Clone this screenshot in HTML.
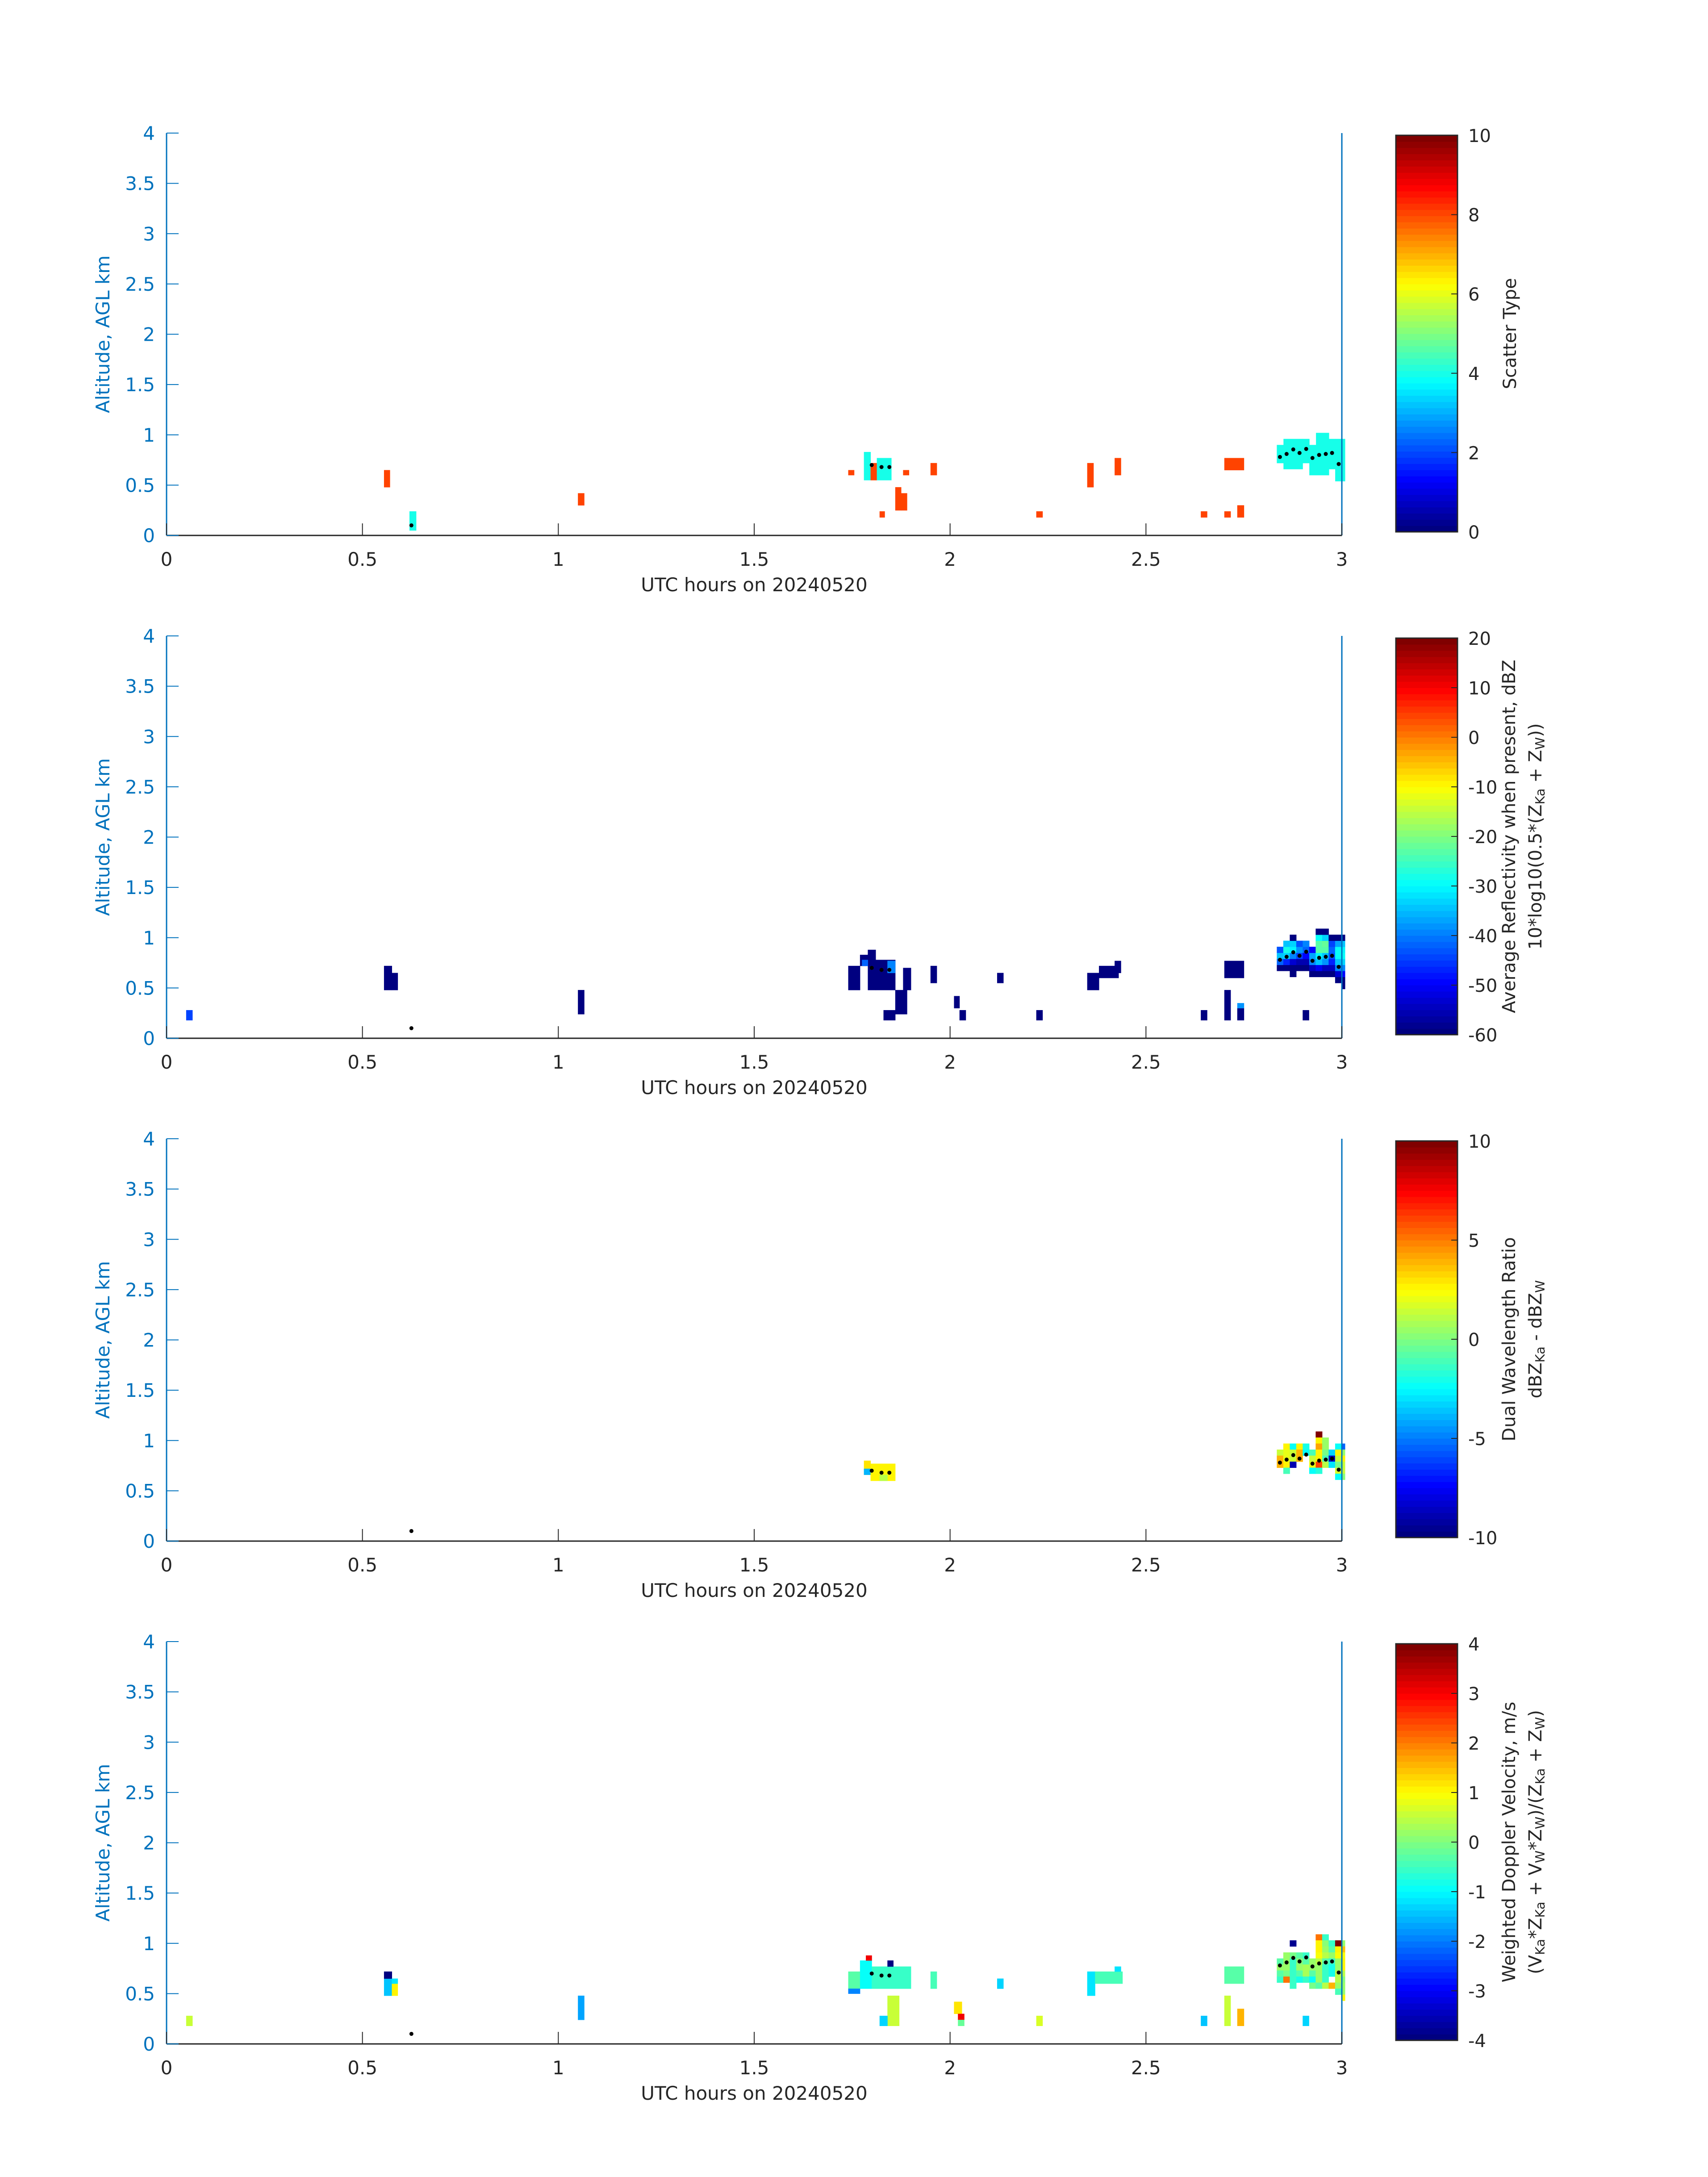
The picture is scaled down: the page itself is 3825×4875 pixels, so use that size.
<!DOCTYPE html>
<html><head><meta charset="utf-8"><style>
html,body{margin:0;padding:0;background:#fff;}
svg{display:block;font-family:"DejaVu Sans","Liberation Sans",sans-serif;}
</style></head><body>
<svg id="fig" width="3825" height="4875" viewBox="0 0 3825 4875" xmlns="http://www.w3.org/2000/svg"></svg>
<script>
// ---- data (t0,t1 hours; z0,z1 km; value) ----
const xTicks=[0,0.5,1,1.5,2,2.5,3];
const yTicks=[0,0.5,1,1.5,2,2.5,3,3.5,4];
const xTickLabels=["0","0.5","1","1.5","2","2.5","3"];
const yTickLabels=["0","0.5","1","1.5","2","2.5","3","3.5","4"];
const dotT=[0.625,1.80,1.825,1.845,2.842,2.859,2.876,2.892,2.909,2.925,2.942,2.959,2.975,2.992];
const dotZ=[0.10,0.70,0.68,0.68,0.78,0.81,0.855,0.82,0.86,0.77,0.80,0.81,0.82,0.71];
const cellsScatter=[
[0.555,0.57,0.48,0.65,8],[0.62,0.637,0.05,0.24,4],[1.05,1.066,0.3,0.42,8],[1.74,1.755,0.6,0.65,8],
[1.78,1.797,0.55,0.83,4],[1.797,1.813,0.55,0.72,8],[1.813,1.85,0.55,0.77,4],[1.86,1.875,0.25,0.48,8],
[1.875,1.89,0.25,0.42,8],[1.82,1.833,0.18,0.24,8],[1.88,1.895,0.6,0.65,8],[1.95,1.966,0.6,0.72,8],
[2.22,2.236,0.18,0.24,8],[2.35,2.366,0.48,0.72,8],[2.42,2.436,0.6,0.77,8],[2.64,2.656,0.18,0.24,8],
[2.70,2.75,0.65,0.77,8],[2.70,2.716,0.18,0.24,8],[2.733,2.75,0.18,0.3,8],
[2.834,2.851,0.72,0.90,4],[2.851,2.90,0.66,0.96,4],[2.90,2.917,0.72,0.96,4],[2.917,2.934,0.60,0.90,4],
[2.934,2.967,0.60,1.02,4],[2.967,2.983,0.66,0.96,4],[2.983,3.008,0.54,0.96,4]];
const cellsRefl=[
[0.05,0.066,0.18,0.28,-45],[0.555,0.575,0.48,0.72,-60],[0.575,0.59,0.48,0.65,-60],[1.05,1.066,0.24,0.48,-60],
[1.74,1.77,0.48,0.72,-60],[1.77,1.79,0.72,0.83,-60],[1.79,1.81,0.48,0.88,-60],[1.775,1.79,0.72,0.78,-42],
[1.81,1.86,0.48,0.78,-60],[1.84,1.86,0.65,0.77,-40],[1.83,1.86,0.18,0.28,-60],[1.86,1.89,0.24,0.48,-60],
[1.88,1.9,0.48,0.7,-60],[1.95,1.966,0.55,0.72,-60],[2.01,2.024,0.3,0.42,-60],[2.024,2.04,0.18,0.28,-60],
[2.12,2.136,0.55,0.65,-60],[2.22,2.236,0.18,0.28,-60],[2.35,2.38,0.48,0.65,-60],[2.38,2.43,0.6,0.72,-60],
[2.42,2.436,0.65,0.77,-60],[2.64,2.656,0.18,0.28,-60],[2.70,2.716,0.18,0.48,-60],[2.70,2.75,0.6,0.77,-60],
[2.733,2.75,0.18,0.3,-60],[2.733,2.75,0.3,0.35,-38],[2.90,2.916,0.18,0.28,-60]];
const cellsDwr=[
[1.78,1.797,0.66,0.8,3],[1.78,1.797,0.66,0.72,-4],[1.797,1.86,0.6,0.77,2.5],[1.82,1.84,0.6,0.66,1]];
const cellsVel=[
[0.05,0.066,0.18,0.28,0.5],[0.555,0.575,0.48,0.65,-1.5],[0.555,0.575,0.65,0.72,-4],[0.575,0.59,0.48,0.6,1],
[0.575,0.59,0.6,0.65,-1.2],[1.05,1.066,0.24,0.48,-1.7],[1.74,1.77,0.55,0.72,-0.3],[1.74,1.77,0.5,0.55,-2],
[1.77,1.8,0.55,0.83,-1],[1.785,1.8,0.83,0.88,3],[1.8,1.9,0.55,0.77,-0.6],[1.84,1.855,0.77,0.83,-4],
[1.84,1.87,0.18,0.48,0.5],[1.82,1.84,0.18,0.28,-1.3],[1.95,1.966,0.55,0.72,-0.5],[2.01,2.03,0.3,0.42,1.2],
[2.02,2.036,0.24,0.3,3],[2.02,2.036,0.18,0.24,-0.2],[2.12,2.136,0.55,0.65,-1.3],[2.22,2.236,0.18,0.28,0.7],
[2.35,2.37,0.48,0.72,-1.2],[2.37,2.44,0.6,0.72,-0.5],[2.42,2.436,0.72,0.77,-1.2],[2.64,2.656,0.18,0.28,-1.5],
[2.70,2.716,0.18,0.48,0.5],[2.70,2.75,0.6,0.77,-0.3],[2.733,2.75,0.18,0.35,1.5],[2.90,2.916,0.18,0.28,-1.3]];
// cluster grids near 3 UTC: [column, row, value]; column k -> t=2.834+k*0.01653 h, row r -> z=0.49+r*0.06 km
const gridRefl=[
[0,3,-60],[0,4,-42],[0,5,-35],[0,6,-43],
[1,3,-60],[1,4,-47],[1,5,-33],[1,6,-28],[1,7,-34],
[2,2,-60],[2,3,-60],[2,4,-53],[2,5,-40],[2,6,-31],[2,7,-33],[2,8,-60],
[3,3,-60],[3,4,-56],[3,5,-45],[3,6,-38],[3,7,-43],
[4,3,-60],[4,4,-56],[4,5,-50],[4,6,-42],[4,7,-40],
[5,2,-60],[5,3,-54],[5,4,-40],[5,5,-37],[5,6,-49],
[6,2,-60],[6,3,-51],[6,4,-35],[6,5,-31],[6,6,-23],[6,7,-23],[6,8,-30],[6,9,-60],
[7,2,-60],[7,3,-54],[7,4,-38],[7,5,-34],[7,6,-23],[7,7,-22],[7,8,-33],[7,9,-60],
[8,2,-60],[8,3,-55],[8,4,-47],[8,5,-43],[8,6,-42],[8,7,-45],[8,8,-60],
[9,1,-60],[9,2,-53],[9,3,-39],[9,4,-34],[9,5,-30],[9,6,-30],[9,7,-37],[9,8,-60],
[10,0,-60],[10,1,-60],[10,2,-50],[10,3,-40],[10,4,-33],[10,5,-30],[10,6,-31],[10,7,-35],[10,8,-60]];
const gridDwr=[
[0,6,1.5],[0,5,4],[0,4,4],
[1,7,2.8],[1,6,2],[1,5,2],[1,4,2.8],[1,3,-1],
[2,7,-2.5],[2,6,1.5],[2,5,1.5],[2,4,-9],
[3,7,2.8],[3,6,3.8],[3,5,4],
[4,7,-2],[4,6,-2.5],
[5,6,-1],[5,5,1.5],[5,4,2],[5,3,-2.5],
[6,9,10],[6,8,2.8],[6,7,4.3],[6,6,2.5],[6,5,2.5],[6,4,6],[6,3,-1.7],
[7,8,0.4],[7,7,0.4],[7,6,-0.3],[7,5,-1],[7,4,1],
[8,6,-3.4],[8,5,-8.5],[8,4,-3],
[9,7,-2.3],[9,6,2.8],[9,5,1.5],[9,4,-0.3],[9,3,1.7],[9,2,-2.5],
[10,7,-5.6],[10,6,0.4],[10,5,2.5],[10,4,1.5],[10,3,1.5],[10,2,0]];
const gridVel=[
[0,5,-0.3],[0,4,0.15],[0,3,-0.3],[0,2,-0.6],
[1,6,0.15],[1,5,0.15],[1,4,0.15],[1,3,-0.1],[1,2,2],
[2,8,-3.8],[2,6,-0.1],[2,5,-0.6],[2,4,-0.6],[2,3,-0.6],[2,2,-0.6],[2,1,-0.6],
[3,6,-0.3],[3,5,0],[3,4,0.15],[3,3,-0.3],[3,2,-0.8],
[4,6,-0.6],[4,5,-0.3],[4,4,0.3],[4,3,0.3],[4,2,-0.6],
[5,5,0.15],[5,4,0.15],[5,3,-0.3],[5,2,-1],[5,1,-0.1],
[6,9,2],[6,8,1.1],[6,7,1.1],[6,6,0.9],[6,5,0.4],[6,4,0.15],[6,3,0.15],[6,2,0.15],[6,1,-0.3],
[7,9,-0.6],[7,8,0],[7,7,0.15],[7,6,0.4],[7,5,-0.3],[7,4,-0.6],[7,3,-0.6],[7,2,-0.6],[7,1,0.4],
[8,8,-0.6],[8,7,-0.3],[8,6,0.15],[8,5,-0.6],[8,4,-0.8],[8,3,-0.8],[8,1,1.5],
[9,8,4],[9,7,1],[9,6,0.9],[9,5,0.15],[9,4,0.15],[9,3,0.4],[9,2,0.4],[9,1,0.15],[9,0,-0.4],
[10,8,0.15],[10,7,1.4],[10,6,0.9],[10,5,1.1],[10,4,1.1],[10,3,0.4],[10,2,0],[10,1,0.15],[10,0,0.15],[10,-1,1.1]];
const cbTicks1=[0,2,4,6,8,10];
const cbTicks2=[-60,-50,-40,-30,-20,-10,0,10,20];
const cbTicks3=[-10,-5,0,5,10];
const cbTicks4=[-4,-3,-2,-1,0,1,2,3,4];

const NS="http://www.w3.org/2000/svg";
const svg=document.getElementById('fig');
function mk(tag,attrs,parent){const e=document.createElementNS(NS,tag);for(const k in attrs)e.setAttribute(k,attrs[k]);(parent||svg).appendChild(e);return e;}
function jet(x){x=Math.max(0,Math.min(1,x));x=Math.min(63,Math.floor(x*64))/63;
 const c=v=>Math.round(255*Math.max(0,Math.min(1,v)));
 return `rgb(${c(1.5-Math.abs(4*x-3))},${c(1.5-Math.abs(4*x-2))},${c(1.5-Math.abs(4*x-1))})`;}
function gridToCells(grid){return grid.map(g=>{const t0=2.834+g[0]*0.01653;return [t0,Math.min(t0+0.01653,3.008),0.49+g[1]*0.06,0.55+g[1]*0.06,g[2]];});}
const L=373,R=3005;
const panels=[
 {cells:cellsScatter,vmin:0,vmax:10,ticks:cbTicks1,lab:["Scatter Type"],name:"scatter-type"},
 {cells:cellsRefl.concat(gridToCells(gridRefl)),vmin:-60,vmax:20,ticks:cbTicks2,lab:["Average Reflectivity when present, dBZ","10*log10(0.5*(Z<sub>Ka</sub> + Z<sub>W</sub>))"],name:"reflectivity"},
 {cells:cellsDwr.concat(gridToCells(gridDwr)),vmin:-10,vmax:10,ticks:cbTicks3,lab:["Dual Wavelength Ratio","dBZ<sub>Ka</sub> - dBZ<sub>W</sub>"],name:"dwr"},
 {cells:cellsVel.concat(gridToCells(gridVel)),vmin:-4,vmax:4,ticks:cbTicks4,lab:["Weighted Doppler Velocity, m/s","(V<sub>Ka</sub>*Z<sub>Ka</sub> + V<sub>W</sub>*Z<sub>W</sub>)/(Z<sub>Ka</sub> + Z<sub>W</sub>)"],name:"velocity"}];
function rich(t,str,fs){
 const parts=str.split(/(<sub>.*?<\/sub>)/);
 parts.forEach(p=>{if(!p)return;const m=p.match(/<sub>(.*?)<\/sub>/);
  const ts=mk('tspan',{},t);
  if(m){ts.setAttribute('font-size',fs*0.72);ts.setAttribute('baseline-shift','-25%');ts.textContent=m[1];}
  else ts.textContent=p;});
}
panels.forEach((p,i)=>{
 const T=298+i*1126,B=T+901;
 const g=mk('g',{});
 
 
 const X=t=>L+(t/3)*(R-L), Y=z=>B-(z/4)*(B-T);
 p.cells.forEach(c=>{
  const r=mk('rect',{x:X(c[0]),y:Y(c[3]),width:X(c[1])-X(c[0])+0.5,height:Y(c[2])-Y(c[3])+0.5,fill:jet((c[4]-p.vmin)/(p.vmax-p.vmin))},g);
  
  
 });
 dotT.forEach((t,k)=>{const d=mk('circle',{cx:X(t),cy:Y(dotZ[k]),r:4.5,fill:'#000'},g);
  
  });
 mk('line',{x1:L,y1:B,x2:R,y2:B,stroke:'#262626','stroke-width':3},g);
 mk('line',{x1:L,y1:T,x2:L,y2:B,stroke:'#0072BD','stroke-width':3},g);
 mk('line',{x1:R,y1:T,x2:R,y2:B,stroke:'#0072BD','stroke-width':3},g);
 xTicks.forEach((v,k)=>{mk('line',{x1:X(v),y1:B,x2:X(v),y2:B-27,stroke:'#262626','stroke-width':2},g);
  const t=mk('text',{x:X(v),y:B+68,'font-size':42,fill:'#262626','text-anchor':'middle'},g);t.textContent=xTickLabels[k];
  });
 yTicks.forEach((v,k)=>{mk('line',{x1:L,y1:Y(v),x2:L+27,y2:Y(v),stroke:'#0072BD','stroke-width':2},g);
  const t=mk('text',{x:347,y:Y(v)+15,'font-size':42,fill:'#0072BD','text-anchor':'end'},g);t.textContent=yTickLabels[k];
  });
 const xl=mk('text',{x:(L+R)/2,y:B+125,'font-size':42,fill:'#262626','text-anchor':'middle'},g);xl.textContent='UTC hours on 20240520';
 
 const yl=mk('text',{x:0,y:0,'font-size':42,fill:'#0072BD','text-anchor':'middle',transform:`translate(245,${(T+B)/2}) rotate(-90)`},g);yl.textContent='Altitude, AGL km';
 
 const cT=T+5,cB=B-8,cL=3126,cR=3264;
 const cb=mk('g',{},g);
 
 
 for(let s=0;s<64;s++){const h=(cB-cT)/64;mk('rect',{x:cL,y:cB-(s+1)*h,width:cR-cL,height:h+0.6,fill:jet(s/63)},cb);}
 mk('rect',{x:cL,y:cT,width:cR-cL,height:cB-cT,fill:'none',stroke:'#262626','stroke-width':3},cb);
 p.ticks.forEach(v=>{const y=cB-(v-p.vmin)/(p.vmax-p.vmin)*(cB-cT);
  mk('line',{x1:cR-14,y1:y,x2:cR,y2:y,stroke:'#262626','stroke-width':2},cb);
  const t=mk('text',{x:3288,y:y+15,'font-size':40,fill:'#262626'},cb);t.textContent=String(v);
  });
 const n=p.lab.length;
 p.lab.forEach((s,k)=>{const cx=n==1?3395:(k==0?3393:3452);
  const t=mk('text',{x:0,y:0,'font-size':40,fill:'#262626','text-anchor':'middle',transform:`translate(${cx},${(cT+cB)/2}) rotate(-90)`},cb);
  rich(t,s,40);
  });
});
</script>
</body></html>
